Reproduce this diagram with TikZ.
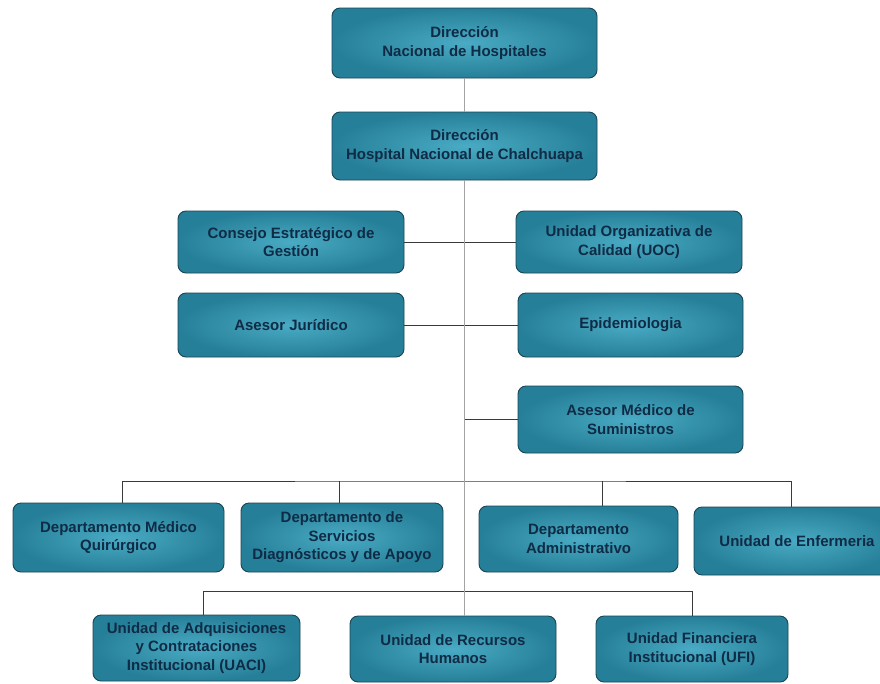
\documentclass[tikz,border=0pt]{standalone}
\usepackage{fontspec}
\setsansfont{Liberation Sans}
\definecolor{tealout}{HTML}{267F98}
\definecolor{tealin}{HTML}{4AABC4}
\definecolor{tealedge}{HTML}{1A4553}
\definecolor{labelink}{HTML}{0F2B45}
\definecolor{trunkgray}{HTML}{A3A3A3}
\definecolor{linkgray}{HTML}{3A3A3A}

\begin{document}
\begin{tikzpicture}[x=1pt,y=-1pt,
  unit/.style={rectangle,rounded corners=8pt,draw=tealedge,line width=.9pt,
    inner color=tealin,outer color=tealout,text=labelink,align=center,
    font=\sffamily\bfseries\fontsize{15}{18.5}\selectfont,inner sep=2pt},
  trunk/.style={trunkgray,line width=1.6pt},
  link/.style={linkgray,line width=1pt}]
  \clip (0,0) rectangle (880,683);
  \fill[white] (0,0) rectangle (880,683);

  % Direcciones
  \node[unit,minimum width=265pt,minimum height=70pt] (dnh) at (464.5,43)
    {Dirección\\Nacional de Hospitales};
  \node[unit,minimum width=265pt,minimum height=68pt] (dhc) at (464.5,146)
    {Dirección\\Hospital Nacional de Chalchuapa};

  % Staff units on both sides of the trunk.
  \node[unit,minimum width=226pt,minimum height=62pt] (ceg) at (291,242)
    {Consejo Estratégico de\\Gestión};
  \node[unit,minimum width=226pt,minimum height=62pt] (uoc) at (629,242)
    {Unidad Organizativa de\\Calidad (UOC)};
  \node[unit,minimum width=226pt,minimum height=64pt] (aj) at (291,325)
    {Asesor Jurídico};
  \node[unit,minimum width=225pt,minimum height=64pt] (epi) at (630.5,325)
    {Epidemiologia};
  \node[unit,minimum width=225pt,minimum height=67pt] (ams) at (630.5,419.5)
    {Asesor Médico de\\Suministros};

  % Departamentos
  \node[unit,minimum width=211pt,minimum height=69pt] (dmq) at (118.5,537.5)
    {Departamento Médico\\Quirúrgico};
  \node[unit,minimum width=202pt,minimum height=69pt] (dsd) at (342,537.5)
    {Departamento de\\Servicios\\Diagnósticos y de Apoyo};
  \node[unit,minimum width=199pt,minimum height=66pt] (dad) at (578.5,539)
    {Departamento\\Administrativo};
  \node[unit,minimum width=206pt,minimum height=68pt] (uen) at (797,541)
    {Unidad de Enfermeria};

  % Unidades
  \node[unit,minimum width=207pt,minimum height=66pt] (uaci) at (196.5,648)
    {Unidad de Adquisiciones\\y Contrataciones\\Institucional (UACI)};
  \node[unit,minimum width=206pt,minimum height=66pt] (urh) at (453,649)
    {Unidad de Recursos\\Humanos};
  \node[unit,minimum width=192pt,minimum height=66pt] (ufi) at (692,649)
    {Unidad Financiera\\Institucional (UFI)};

  \coordinate (busA) at (464,481);
  \coordinate (busB) at (464,591);

  % Lines: horizontal links first, trunk on top.
  \draw[link] (ceg.east) -- (uoc.west);
  \draw[link] (aj.east) -- (epi.west);
  \draw[link] (dhc.south |- ams.west) -- (ams.west);
  \draw[link] ([xshift=3.5pt]dmq.north) |- (busA) -| ([xshift=-6pt]uen.north);
  \draw[link] ([xshift=-3pt]dsd.north) -- ([xshift=-3pt]dsd.north |- busA);
  \draw[link] ([xshift=23.5pt]dad.north) -- ([xshift=23.5pt]dad.north |- busA);
  \draw[link] ([xshift=6.5pt]uaci.north) |- (busB) -| (ufi.north);
  \draw[trunk] (dnh) -- (dhc);
  \draw[trunk] (dhc.south) -- (dhc.south |- urh.north);
\end{tikzpicture}
\end{document}
